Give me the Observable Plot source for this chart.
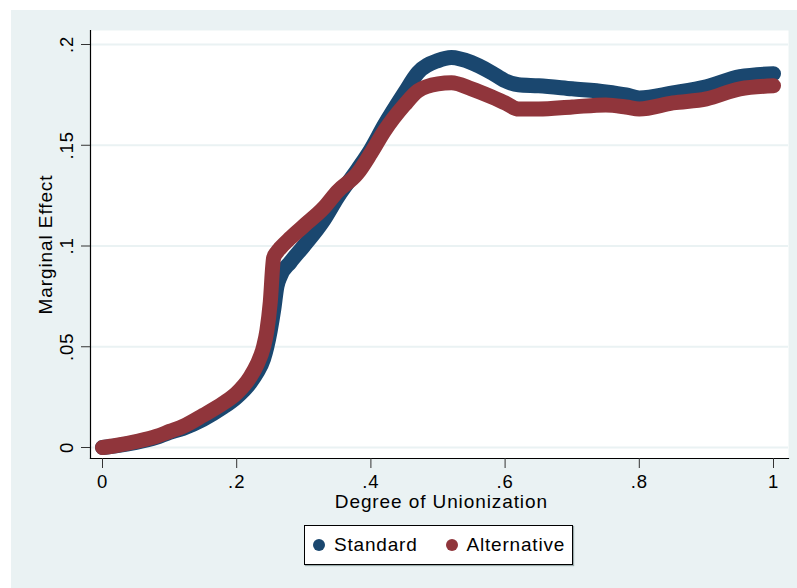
<!DOCTYPE html>
<html>
<head>
<meta charset="utf-8">
<script src="https://cdn.jsdelivr.net/npm/d3@7"></script>
<script src="https://cdn.jsdelivr.net/npm/@observablehq/plot@0.6"></script>
<style>
  html, body { margin: 0; padding: 0; background: #ffffff; }
  #wrap { position: relative; width: 797px; height: 588px; overflow: hidden; font-family: "Liberation Sans", Arial, sans-serif; }
  #bg { position: absolute; left: 11px; top: 10px; width: 786px; height: 578px; background: #EAF2F3; }
  #chart { position: absolute; left: 0; top: 0; }
  #chart svg text { letter-spacing: 0.9px; }
  #legend { position: absolute; left: 304px; top: 525px; width: 267px; height: 38px; background: #fff;
            border: 1px solid #000; box-shadow: 1px 1px 1px #9aa; display: flex; align-items: center;
            font-size: 19px; letter-spacing: 0.8px; color: #000; }
  .item { display: flex; align-items: center; }
  .dot { width: 12px; height: 12px; border-radius: 50%; display: inline-block; margin-right: 9px; }
</style>
</head>
<body>
<div id="wrap">
  <div id="bg"></div>
  <div id="chart"></div>
  <div id="legend"></div>
</div>
<script>
const xValues = [0, .02, .05, .08, .1, .12, .15, .18, .2, .22, .23, .24, .245, .25, .255, .26, .265, .28, .3, .33, .35, .38, .4, .42, .45, .47, .5, .52, .55, .58, .6, .62, .65, .7, .75, .78, .8, .85, .9, .95, 1];
const standard = [0, .0008, .0025, .005, .0075, .0095, .014, .02, .025, .032, .037, .044, .05, .058, .068, .08, .085, .092, .1, .113, .124, .138, .148, .16, .176, .186, .192, .1935, .191, .186, .182, .18, .1795, .178, .1765, .175, .1735, .176, .179, .184, .1855];
const alternative = [0, .001, .003, .0055, .008, .0105, .016, .022, .027, .035, .041, .05, .058, .072, .094, .097, .099, .104, .11, .119, .127, .136, .146, .157, .17, .177, .1805, .181, .178, .174, .171, .168, .168, .169, .17, .169, .168, .171, .173, .178, .1795];
const seriesNames = ["Standard", "Alternative"];
const seriesColors = ["#1A476F", "#90353B"];
const yTicks = [0, .05, .1, .15, .2];
const yTickLabels = ["0", ".05", ".1", ".15", ".2"];
const xTicks = [0, .2, .4, .6, .8, 1];
const xTickLabels = ["0", ".2", ".4", ".6", ".8", "1"];

const rows = [];
xValues.forEach((x, i) => rows.push({x, y: standard[i], s: seriesNames[0]}));
xValues.forEach((x, i) => rows.push({x, y: alternative[i], s: seriesNames[1]}));

const font = "Liberation Sans, Arial, sans-serif";
const lineOpts = {x: "x", y: "y", stroke: "s", strokeWidth: 15, strokeLinecap: "round", strokeLinejoin: "round", curve: "monotone-x"};
const chart = Plot.plot({
  width: 797,
  height: 588,
  marginLeft: 90,
  marginRight: 9,
  marginTop: 30,
  marginBottom: 130,
  style: {background: "transparent", fontFamily: font, fontSize: "18px", color: "#000"},
  x: {domain: [0, 1], range: [102, 773], label: null},
  y: {domain: [0, 0.2], range: [447, 44], label: null},
  color: {domain: seriesNames, range: seriesColors},
  marks: [
    Plot.frame({fill: "#fff", stroke: "none"}),
    Plot.gridY(yTicks, {stroke: "#EAF2F3", strokeOpacity: 1, strokeWidth: 2}),
    Plot.line(rows.filter(d => d.s === seriesNames[0]), lineOpts),
    Plot.line(rows.filter(d => d.s === seriesNames[1]), lineOpts),
    Plot.frame({anchor: "left", stroke: "#000", strokeWidth: 1.2}),
    Plot.frame({anchor: "bottom", stroke: "#000", strokeWidth: 1.2}),
    Plot.axisY(yTicks, {tickSize: 9, tickFormat: () => "", stroke: "#333", label: null}),
    Plot.axisX(xTicks, {tickSize: 10, tickFormat: () => "", stroke: "#333", anchor: "bottom", tickPadding: 0, label: null}),
    Plot.text(yTicks, {y: d => d, text: (d, i) => yTickLabels[i], frameAnchor: "left", dx: -23, rotate: -90, fontSize: 18.5, fill: "#000", textAnchor: "middle", lineAnchor: "middle"}),
    Plot.text(xTicks, {x: d => d, text: (d, i) => xTickLabels[i], frameAnchor: "bottom", dy: 24, fontSize: 18.5, fill: "#000", textAnchor: "middle", lineAnchor: "middle"}),
    Plot.text(["Marginal Effect"], {frameAnchor: "left", dx: -45, rotate: -90, fontSize: 19, fill: "#000", textAnchor: "middle", lineAnchor: "middle"}),
    Plot.text(["Degree of Unionization"], {x: 0.505, frameAnchor: "bottom", dy: 43, fontSize: 19, fill: "#000", textAnchor: "middle", lineAnchor: "middle"})
  ]
});
document.getElementById("chart").appendChild(chart);

const legend = document.getElementById("legend");
seriesNames.forEach((name, i) => {
  const item = document.createElement("span");
  item.className = "item";
  item.style.marginLeft = i === 0 ? "8px" : "28px";
  const dot = document.createElement("span");
  dot.className = "dot";
  dot.style.background = seriesColors[i];
  item.appendChild(dot);
  item.appendChild(document.createTextNode(name));
  legend.appendChild(item);
});
</script>
</body>
</html>
